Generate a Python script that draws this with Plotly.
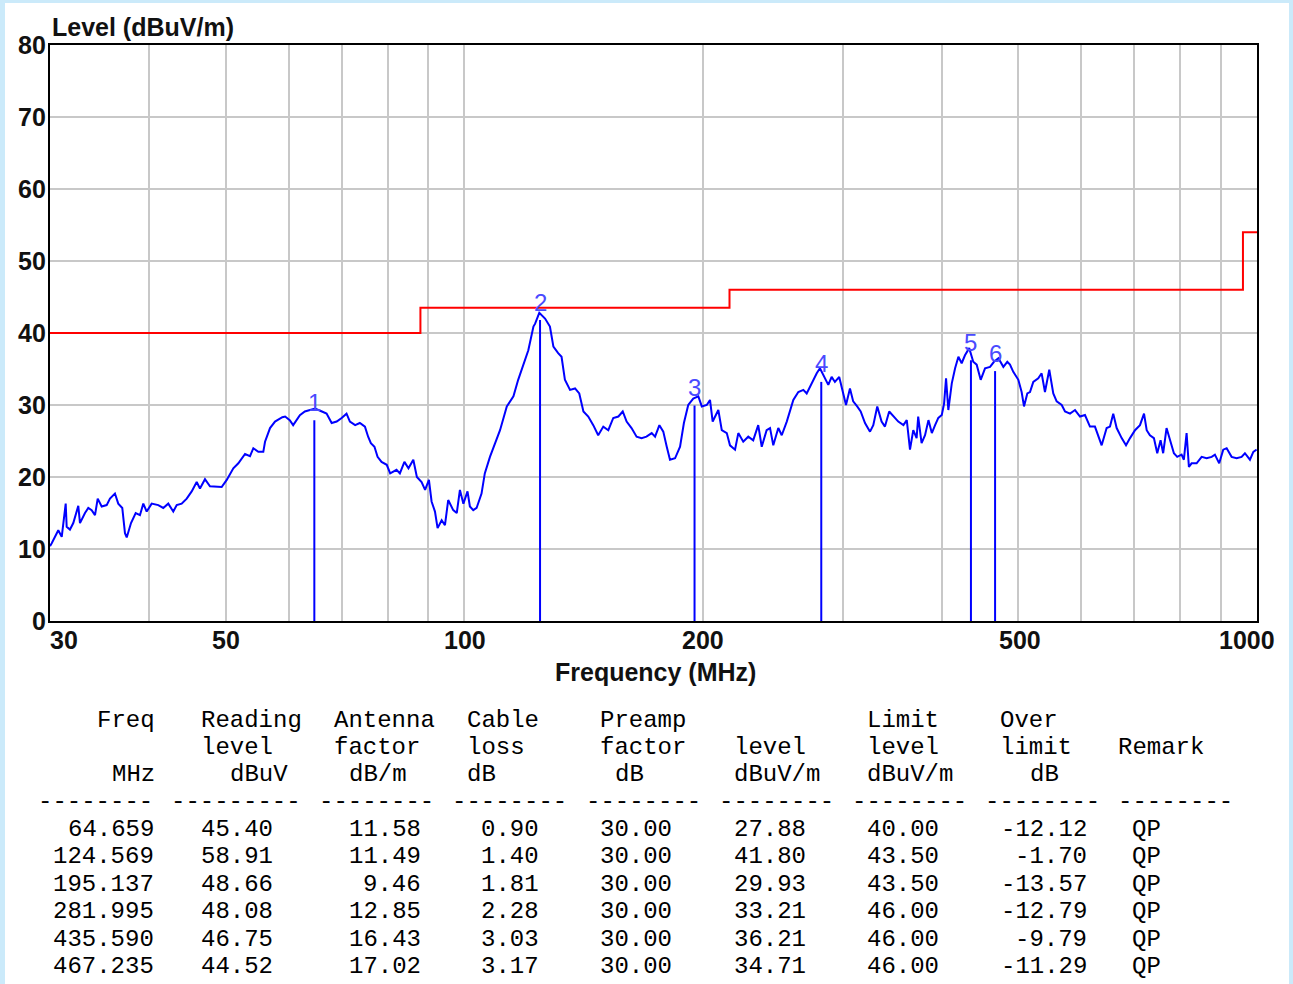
import math
import plotly.graph_objects as go

# ---------------- data ----------------
freq_mhz = [
    30.0, 30.15, 30.73, 31.04, 31.40, 31.49, 31.79, 32.10, 32.57, 32.73, 33.21, 33.53, 33.86, 34.19,
    34.46, 34.86, 35.37, 35.71, 36.23, 36.58, 37.01, 37.30, 37.49, 37.96, 38.48, 38.96, 39.34,
    39.73, 40.31, 41.09, 41.69, 42.30, 42.92, 43.35, 43.98, 44.63, 45.28, 45.94, 46.38, 47.06,
    47.75, 48.45, 49.40, 50.13, 51.10, 51.85, 52.87, 53.64, 54.16, 54.95, 55.75, 56.03, 56.85,
    57.68, 58.92,
    59.4, 60.2, 60.8, 62.0, 62.9, 63.8, 64.8, 66.1, 67.0, 68.0, 69.0, 70.0, 71.0, 71.7, 72.8,
    73.8, 74.9, 75.6, 76.2, 77.0, 77.7, 78.6, 79.8, 80.6, 82.1, 82.9, 84.0, 85.0, 86.2, 87.1,
    88.3, 89.2, 90.2, 90.9, 91.8, 92.5, 93.6, 94.5, 95.4, 96.8, 97.8, 98.7, 99.7, 100.9, 101.6,
    102.6, 103.6, 105.1, 106.1, 107.7, 109.3, 110.9, 113.1, 115.3, 116.9, 118.7, 120.4, 122.2,
    122.8, 124.3, 126.4, 128.2, 129.5, 131.3, 132.6, 133.9, 135.9, 137.9, 139.6, 141.3, 143.3,
    145.4, 147.5, 149.7, 151.9, 154.1, 156.4, 158.4, 160.2, 162.5, 164.9, 167.3, 169.7, 172.3,
    174.0, 176.2, 178.2, 180.0, 181.7, 184.4, 187.1, 189.2, 191.6, 194.4, 197.3, 199.3, 202.2,
    204.1, 205.7, 209.1, 211.2, 214.3, 216.3, 219.5, 221.6, 224.8, 228.1, 231.4, 234.8, 237.2,
    240.6,
    243.0, 245.3, 248.9, 251.4, 255.1, 257.5, 260.0, 263.8, 267.7, 270.3, 274.2, 278.3, 280.9,
    285.1, 287.8, 290.6, 293.4, 297.1, 299.2, 303.0, 306.5, 309.4, 313.0, 316.2, 320.2, 324.9,
    328.0, 331.8, 336.0, 339.3, 343.5, 347.6, 352.7, 358.0, 361.5, 364.9, 368.4, 372.0, 373.7,
    377.4, 381.2, 385.0, 388.8, 392.5, 396.2, 400.2, 402.9, 405.2, 407.9, 412.0, 416.0, 420.0,
    424.0, 428.1, 433.4, 438.5, 442.9, 448.1, 453.8, 460.5, 465.7, 471.8, 478.6, 484.1,
    487.9, 492.6, 499.9, 504.7, 508.2, 513.1, 517.1, 522.1, 529.7, 534.9, 540.1, 546.9, 553.3,
    558.8, 567.0, 572.5, 580.9, 589.4, 598.0, 606.7, 615.5, 624.5, 630.5, 636.8, 646.1, 652.4,
    658.6, 665.2, 674.9, 683.5, 691.5, 701.6, 711.8, 720.2, 725.8, 732.7, 741.2, 748.4, 755.7,
    761.4, 768.9, 778.1, 785.5, 793.1, 803.2, 808.6, 815.0, 820.5, 827.0, 839.1, 851.4, 863.8,
    876.6, 884.9, 896.0, 906.6, 915.6, 928.9, 942.5, 956.2, 965.5, 979.7, 989.4, 999.0,
]
level_dbuv = [
    10.4, 10.8, 12.6, 11.7, 16.3, 13.1, 12.7, 13.6, 16.0, 13.6, 15.0, 15.7, 15.4, 14.7,
    17.0, 15.9, 16.1, 17.0, 17.7, 16.3, 15.7, 12.2, 11.6, 13.6, 15.0, 14.7, 16.3,
    15.2, 16.3, 16.1, 15.7, 16.3, 15.2, 16.1, 16.3, 17.0, 18.0, 19.3, 18.4, 19.7,
    18.7, 18.7, 18.6, 19.6, 21.2, 21.9, 23.2, 22.9, 24.0, 23.5, 23.5, 24.9, 26.8,
    27.7, 28.3,
    28.4, 27.9, 27.2, 28.6, 29.1, 29.3, 29.5, 29.1, 28.8, 27.5, 27.7, 28.2, 28.8, 27.7, 27.2,
    27.5, 27.0, 25.6, 24.7, 24.2, 22.8, 22.1, 21.7, 20.5, 21.0, 20.5, 22.1, 21.2, 22.4, 20.0,
    19.3, 18.2, 19.6, 16.6, 15.2, 12.9, 14.0, 13.3, 16.8, 15.4, 15.0, 18.2, 16.3, 18.0, 15.9,
    15.4, 15.7, 17.7, 20.5, 22.8, 24.7, 26.5, 29.8, 31.2, 33.5, 35.8, 37.6, 40.9,
    41.3, 42.8, 42.0, 40.9, 38.1, 37.2, 36.7, 33.5, 32.1, 32.3, 31.6, 29.1, 28.4,
    27.2, 25.8, 27.0, 26.5, 28.2, 28.4, 29.1, 27.7, 26.8, 25.6, 25.4, 25.6, 26.1,
    25.6, 27.2, 26.3, 24.2, 22.4, 22.6, 24.2, 27.5, 30.0, 30.9, 31.2, 29.8, 30.0,
    30.7, 27.7, 29.3, 26.5, 26.1, 24.4, 23.8, 26.1, 24.9, 25.6, 25.1, 27.2, 24.2,
    26.5,
    26.8, 24.4, 26.8, 25.8, 27.7, 29.3, 30.7, 31.8, 32.1, 31.6, 33.0, 34.4, 35.1,
    33.7, 32.8, 33.9, 33.2, 33.9, 32.5, 30.0, 32.3, 30.5, 29.8, 29.1, 27.5, 26.3,
    27.2, 29.8, 27.7, 27.0, 29.1, 28.4, 27.7, 27.2, 27.9, 23.8, 26.5, 25.4, 28.4,
    24.7, 25.8, 27.9, 26.1, 27.2, 28.2, 28.6, 30.2, 33.7, 29.3, 33.0, 35.1, 36.7,
    35.8, 36.9, 37.9, 36.0, 35.6, 33.5, 35.1, 35.3, 36.0, 36.5, 35.3, 36.0,
    35.6, 34.6, 33.5, 31.8, 29.8, 31.6, 31.8, 33.2, 33.7, 34.4, 31.8, 34.9, 31.6,
    30.5, 30.0, 29.1, 28.8, 29.3, 28.4, 28.6, 27.0, 27.0, 25.8, 24.4, 26.8, 27.0,
    28.8, 26.8, 25.4, 24.4, 25.4, 26.5, 27.2, 28.8, 26.5, 25.8, 25.4, 23.3, 25.1,
    23.3, 26.8, 24.9, 23.3, 22.8, 23.1, 22.4, 26.1, 21.4, 21.9, 21.9, 22.8, 22.6,
    22.8, 23.1, 21.9, 23.8, 24.0, 22.8, 22.6, 22.8, 23.3, 22.4, 23.5, 23.8,
]

limit_freq = [30, 88, 216, 960, 1000]
limit_level = [40.0, 43.5, 46.0, 54.0, 54.0]

# marker / result table
marker_freq = [64.659, 124.569, 195.137, 281.995, 435.590, 467.235]
reading_level = [45.40, 58.91, 48.66, 48.08, 46.75, 44.52]
antenna_factor = [11.58, 11.49, 9.46, 12.85, 16.43, 17.02]
cable_loss = [0.90, 1.40, 1.81, 2.28, 3.03, 3.17]
preamp_factor = [30.00, 30.00, 30.00, 30.00, 30.00, 30.00]
marker_level = [27.88, 41.80, 29.93, 33.21, 36.21, 34.71]
limit_at_marker = [40.00, 43.50, 43.50, 46.00, 46.00, 46.00]
over_limit = [-12.12, -1.70, -13.57, -12.79, -9.79, -11.29]
remark = ["QP", "QP", "QP", "QP", "QP", "QP"]

grid_vals = [30, 40, 50, 60, 70, 80, 90, 100, 200, 300, 400, 500, 600, 700, 800, 900, 1000]
x_label_vals = [30, 50, 100, 200, 500, 1000]
x_label_shift = [14, 0, 1, 0, 2, -10]
y_ticks = [0, 10, 20, 30, 40, 50, 60, 70, 80]

# ---------------- layout constants ----------------
W, H = 1293, 984
PL, PR, PT, PB = 50, 1257, 45, 621
BOLD = "Liberation Sans"
MONO = "Liberation Mono"
CW = 14.8          # table character pitch (px)
TX0 = 37           # table left edge (px)
TXT = "#111111"


def px(xp):
    return (xp - PL) / (PR - PL)


def py(yp):
    return (PB - yp) / (PB - PT)


bold_font = dict(family=BOLD, size=25, color=TXT, weight="bold")

fig = go.Figure()

# measured spectrum
fig.add_trace(go.Scatter(x=freq_mhz, y=level_dbuv, mode="lines",
                         line=dict(color="#0000ff", width=2), hoverinfo="skip"))
# limit line
fig.add_trace(go.Scatter(x=limit_freq, y=limit_level, mode="lines", line_shape="hv",
                         line=dict(color="#ff0000", width=2), hoverinfo="skip"))
# marker lines
mx, my = [], []
for f, lv in zip(marker_freq, marker_level):
    mx += [f, f, None]
    my += [0, lv, None]
fig.add_trace(go.Scatter(x=mx, y=my, mode="lines", line=dict(color="#0000ff", width=2),
                         hoverinfo="skip"))

ann = []
for i, (f, lv) in enumerate(zip(marker_freq, marker_level)):
    ann.append(dict(x=math.log10(f), y=lv, xref="x", yref="y", text=str(i + 1),
                    showarrow=False, yshift=18, yanchor="middle",
                    font=dict(family=BOLD, size=24, color="#4a4aff")))

# x tick labels (the reference pulls the edge ones inside the plot width)
for v, s in zip(x_label_vals, x_label_shift):
    ann.append(dict(x=math.log10(v), y=py(640), xref="x", yref="paper", text=str(v),
                    showarrow=False, xanchor="center", xshift=s, yanchor="middle",
                    font=bold_font))
# y tick labels
for v in y_ticks:
    ann.append(dict(x=px(47), y=v, xref="paper", yref="y", text=str(v), showarrow=False,
                    xanchor="right", yanchor="middle", font=bold_font, borderpad=0))

# axis titles
ann.append(dict(x=0, y=py(27), xref="paper", yref="paper", text="Level (dBuV/m)",
                showarrow=False, xanchor="left", yanchor="middle", font=bold_font))
ann.append(dict(x=px(655), y=py(672), xref="paper", yref="paper", text="Frequency (MHz)",
                showarrow=False, xanchor="center", yanchor="middle", font=bold_font))

# ---------------- result table ----------------
header_rows = [
    [(4, "Freq"), (11, "Reading"), (20, "Antenna"), (29, "Cable"), (38, "Preamp"),
     (56, "Limit"), (65, "Over")],
    [(11, "level"), (20, "factor"), (29, "loss"), (38, "factor"), (47, "level"),
     (56, "level"), (65, "limit"), (73, "Remark")],
    [(5, "MHz"), (13, "dBuV"), (21, "dB/m"), (29, "dB"), (39, "dB"), (47, "dBuV/m"),
     (56, "dBuV/m"), (67, "dB")],
]
header_y = [720, 747, 774]
dash_cols = [(0, 8), (9, 9), (19, 8), (28, 8), (37, 8), (46, 8), (55, 8), (64, 8), (73, 8)]
dash_y = 801
row_y = [829, 856.5, 884, 911.5, 939, 966]
# (last character index, values, format)
value_cols = [
    (7, marker_freq, "{:.3f}"),
    (15, reading_level, "{:.2f}"),
    (25, antenna_factor, "{:.2f}"),
    (33, cable_loss, "{:.2f}"),
    (42, preamp_factor, "{:.2f}"),
    (51, marker_level, "{:.2f}"),
    (60, limit_at_marker, "{:.2f}"),
    (70, over_limit, "{:.2f}"),
    (75, remark, "{}"),
]
tfont = dict(family=MONO, size=24, color="#000000")

for yp, row in zip(header_y, header_rows):
    for c, txt in row:
        ann.append(dict(x=px(TX0 + c * CW), y=py(yp), xref="paper", yref="paper", text=txt,
                        showarrow=False, xanchor="left", yanchor="middle", font=tfont,
                        borderpad=0))
for c, n in dash_cols:
    ann.append(dict(x=px(TX0 + c * CW), y=py(dash_y), xref="paper", yref="paper",
                    text="-" * n, showarrow=False, xanchor="left", yanchor="middle",
                    font=tfont, borderpad=0))
for last, vals, fmt in value_cols:
    for yp, v in zip(row_y, vals):
        ann.append(dict(x=px(TX0 + (last + 1) * CW), y=py(yp), xref="paper", yref="paper",
                        text=fmt.format(v), showarrow=False, xanchor="right",
                        yanchor="middle", font=tfont, borderpad=0))

# white panel over the light-blue page
shapes = [dict(type="rect", xref="paper", yref="paper", layer="below",
               x0=px(5), x1=px(1289), y0=py(984), y1=py(3),
               fillcolor="#ffffff", line=dict(width=0))]

fig.update_layout(
    width=W, height=H, autosize=False,
    margin=dict(l=PL, r=W - PR, t=PT, b=H - PB, pad=0),
    paper_bgcolor="#cbeafa", plot_bgcolor="#ffffff",
    showlegend=False,
    annotations=ann, shapes=shapes,
    xaxis=dict(type="log", range=[math.log10(30), math.log10(1000)],
               tickmode="array", tickvals=grid_vals, showticklabels=False,
               showgrid=True, gridcolor="#c8c8c8", gridwidth=2,
               showline=True, linecolor="#000000", linewidth=2, mirror=True,
               ticks="", zeroline=False),
    yaxis=dict(range=[0, 80], tickmode="array", tickvals=y_ticks, showticklabels=False,
               showgrid=True, gridcolor="#c8c8c8", gridwidth=2,
               showline=True, linecolor="#000000", linewidth=2, mirror=True,
               ticks="", zeroline=False),
)

fig.write_html("out.html", config={"displayModeBar": False},
               post_script="document.body.style.margin='0';")
